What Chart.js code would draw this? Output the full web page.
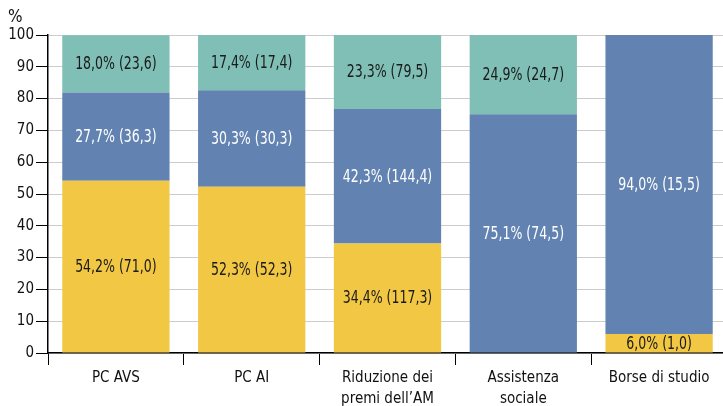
<!DOCTYPE html>
<html>
<head>
<meta charset="utf-8">
<script src="https://cdn.jsdelivr.net/npm/chart.js@4/dist/chart.umd.min.js"></script>
<style>
  html, body { margin: 0; padding: 0; background: #fff; overflow: hidden; }
  #wrap { width: 727px; height: 406px; }
</style>
</head>
<body>
<div id="wrap"><canvas id="chart"></canvas></div>
<script>
// Categorie e valori (quote in % e importi tra parentesi)
const categories = ['PC AVS', 'PC AI', ['Riduzione dei', 'premi dell\u2019AM'], ['Assistenza', 'sociale'], 'Borse di studio'];
const yellowPct = [54.2, 52.3, 34.4, 0, 6.0];
const bluePct = [27.7, 30.3, 42.3, 75.1, 94.0];
const tealPct = [18.0, 17.4, 23.3, 24.9, 0];
const yellowAmt = [71.0, 52.3, 117.3, null, 1.0];
const blueAmt = [36.3, 30.3, 144.4, 74.5, 15.5];
const tealAmt = [23.6, 17.4, 79.5, 24.7, null];
const yTicks = [0, 10, 20, 30, 40, 50, 60, 70, 80, 90, 100];

const FONT = '"Liberation Sans Narrow", "DejaVu Sans Condensed", "Roboto", sans-serif';
const fmt = v => v.toFixed(1).replace('.', ',');

// Etichette dentro le barre (testo stretto come nell'originale)
const barLabels = {
    id: 'barLabels',
    afterDatasetsDraw(chart) {
        const ctx = chart.ctx;
        ctx.save();
        ctx.font = '17px ' + FONT;
        ctx.textAlign = 'center';
        ctx.textBaseline = 'middle';
        chart.data.datasets.forEach((ds, i) => {
            const meta = chart.getDatasetMeta(i);
            meta.data.forEach((bar, j) => {
                const pct = ds.data[j];
                const amt = ds.amounts[j];
                if (!pct || amt == null) return;
                ctx.fillStyle = ds.labelColor;
                const yMid = (bar.y + bar.base) / 2;
                ctx.save();
                ctx.translate(bar.x, yMid + 1);
                ctx.scale(0.82, 1);
                ctx.fillText(fmt(pct) + '% (' + fmt(amt) + ')', 0, 0);
                ctx.restore();
            });
        });
        // simbolo % sopra l'asse
        ctx.fillStyle = '#111';
        ctx.font = '17px ' + FONT;
        ctx.textAlign = 'left';
        ctx.fillText('%', 8, 18);
        ctx.restore();
    }
};

new Chart(document.getElementById('chart'), {
    type: 'bar',
    data: {
        labels: categories,
        datasets: [
            { label: 'giallo', data: yellowPct, amounts: yellowAmt, backgroundColor: '#f2c744', labelColor: '#1a1a1a' },
            { label: 'blu', data: bluePct, amounts: blueAmt, backgroundColor: '#6283b1', labelColor: '#ffffff' },
            { label: 'verde', data: tealPct, amounts: tealAmt, backgroundColor: '#7fbfb5', labelColor: '#1a1a1a' }
        ]
    },
    options: {
        responsive: true,
        maintainAspectRatio: false,
        animation: false,
        layout: { padding: { top: 35, right: 0, left: 0, bottom: 0 } },
        plugins: { legend: { display: false }, tooltip: { enabled: false } },
        datasets: { bar: { barPercentage: 0.79, categoryPercentage: 1 } },
        scales: {
            x: {
                stacked: true,
                grid: { drawOnChartArea: false, drawTicks: true, tickLength: 12, color: '#000', tickColor: '#000', offset: true },
                border: { color: '#000', width: 1.5 },
                ticks: { color: '#111', font: { family: FONT, size: 15, lineHeight: 1.4 }, padding: 3, maxRotation: 0, autoSkip: false },
                afterFit(scale) { scale.height = 53; }
            },
            y: {
                stacked: true,
                min: 0,
                max: 100,
                afterBuildTicks(scale) { scale.ticks = yTicks.map(v => ({ value: v })); },
                grid: { color: '#cccccc', tickColor: '#000', tickLength: 12, lineWidth: 1 },
                border: { color: '#000', width: 1.5 },
                ticks: { color: '#111', font: { family: FONT, size: 15 }, padding: 2 },
                afterFit(scale) { scale.width = 48; }
            }
        }
    },
    plugins: [barLabels]
});
</script>
</body>
</html>
